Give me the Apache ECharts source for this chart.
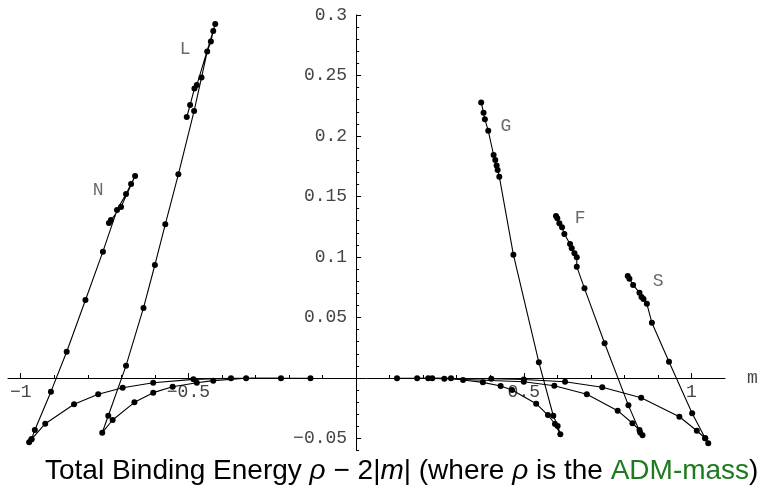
<!DOCTYPE html>
<html><head><meta charset="utf-8">
<script src="https://cdn.jsdelivr.net/npm/echarts@6/dist/echarts.min.js"></script>
<style>html,body{margin:0;padding:0;background:#fff}#c{width:762px;height:497px}</style>
</head><body><div id="c"></div>
<script>
// ---- data (m, binding energy) ----
const nCurveM = [-0.224, -0.373, -0.485, -0.605, -0.696, -0.769, -0.841, -0.927, -0.968, -0.975];
const nCurveE = [-0.0002, -0.0002, -0.0011, -0.0039, -0.0080, -0.0135, -0.0217, -0.0378, -0.0507, -0.0531];
const nSteepM = [-0.968, -0.958, -0.910, -0.863, -0.807, -0.755, -0.713, -0.686, -0.671, -0.659, -0.701, -0.731, -0.737];
const nSteepE = [-0.0507, -0.0430, -0.0113, 0.0217, 0.0645, 0.1044, 0.1388, 0.1521, 0.1603, 0.1669, 0.1413, 0.1306, 0.1281];

const lCurveM = [-0.136, -0.328, -0.426, -0.475, -0.547, -0.605, -0.661, -0.726, -0.757];
const lCurveE = [-0.0002, -0.0002, -0.0022, -0.0039, -0.0072, -0.0121, -0.0201, -0.0347, -0.0452];
const lSteepM = [-0.739, -0.686, -0.634, -0.600, -0.569, -0.530, -0.483, -0.461, -0.444, -0.433, -0.426, -0.420, -0.475, -0.482, -0.495, -0.505];
const lSteepE = [-0.0312, 0.0102, 0.0579, 0.0934, 0.1270, 0.1683, 0.2207, 0.2483, 0.2698, 0.2781, 0.2868, 0.2926, 0.2421, 0.2393, 0.2256, 0.2157];

const gCurveM = [0.122, 0.215, 0.283, 0.319, 0.378, 0.431, 0.465, 0.537, 0.572, 0.593, 0.609];
const gCurveE = [-0.0002, -0.0002, -0.0002, -0.0017, -0.0036, -0.0066, -0.0099, -0.0212, -0.0306, -0.0380, -0.0465];
const gSteepM = [0.601, 0.588, 0.545, 0.469, 0.427, 0.422, 0.419, 0.415, 0.410, 0.394, 0.384, 0.380, 0.373];
const gSteepE = [-0.0397, -0.0312, 0.0130, 0.1019, 0.1664, 0.1719, 0.1756, 0.1802, 0.1843, 0.2044, 0.2138, 0.2193, 0.2277];

const fCurveM = [0.182, 0.263, 0.500, 0.591, 0.688, 0.780, 0.824, 0.845, 0.854];
const fCurveE = [-0.0002, -0.0006, -0.0031, -0.0064, -0.0135, -0.0270, -0.0374, -0.0430, -0.0474];
const fSteepM = [0.847, 0.812, 0.741, 0.681, 0.658, 0.658, 0.651, 0.643, 0.638, 0.621, 0.614, 0.606, 0.600, 0.596];
const fSteepE = [-0.0450, -0.0226, 0.0287, 0.0741, 0.0920, 0.0998, 0.1031, 0.1072, 0.1107, 0.1190, 0.1245, 0.1279, 0.1320, 0.1339];

const sCurveM = [0.227, 0.403, 0.500, 0.623, 0.734, 0.850, 0.964, 1.016, 1.041, 1.050];
const sCurveE = [-0.0002, -0.0006, -0.0012, -0.0031, -0.0077, -0.0163, -0.0320, -0.0436, -0.0498, -0.0540];
const sSteepM = [1.041, 1.002, 0.933, 0.882, 0.867, 0.857, 0.851, 0.845, 0.826, 0.815, 0.810];
const sSteepE = [-0.0498, -0.0292, 0.0135, 0.0457, 0.0613, 0.0653, 0.0669, 0.0705, 0.0769, 0.0821, 0.0843];

// curve labels
const labelNames = ['N', 'L', 'G', 'F', 'S'];
const labelM = [-0.769, -0.510, 0.447, 0.668, 0.901];
const labelE = [0.155, 0.272, 0.208, 0.132, 0.080];

// ticks
const xMajorTicks = [-1, -0.5, 0.5, 1];
const xMinorTicks = [-1, -0.9, -0.8, -0.7, -0.6, -0.5, -0.4, -0.3, -0.2, -0.1, 0.1, 0.2, 0.3, 0.4, 0.5, 0.6, 0.7, 0.8, 0.9, 1];
const yMajorTicks = [-0.05, 0.05, 0.1, 0.15, 0.2, 0.25, 0.3];

// axis ranges
const X_MIN = -1.038, X_MAX = 1.10, Y_MIN = -0.06, Y_MAX = 0.3;

const groups = [
  [nCurveM, nCurveE, nSteepM, nSteepE],
  [lCurveM, lCurveE, lSteepM, lSteepE],
  [gCurveM, gCurveE, gSteepM, gSteepE],
  [fCurveM, fCurveE, fSteepM, fSteepE],
  [sCurveM, sCurveE, sSteepM, sSteepE]
];
const pts = (a, b) => a.map((v, i) => [v, b[i]]);

const monoFont = 'Liberation Mono';
const fmt = v => String(+(+v).toFixed(3)).replace('-', '\u2212');

// plot box in pixels
const G_LEFT = 8, G_TOP = 15, G_W = 717, G_H = 435.6;
const zeroX = G_LEFT + G_W * (0 - X_MIN) / (X_MAX - X_MIN);
const zeroY = G_TOP + G_H * (Y_MAX - 0) / (Y_MAX - Y_MIN);

const series = groups.map(g => ({
  type: 'line',
  xAxisIndex: 0, yAxisIndex: 0,
  data: pts(g[0], g[1]).concat(pts(g[2], g[3])),
  symbol: 'circle', symbolSize: 6,
  itemStyle: { color: '#000' },
  lineStyle: { color: '#000', width: 1.1 },
  silent: true
}));
series.push({
  type: 'scatter', xAxisIndex: 0, yAxisIndex: 0,
  data: labelNames.map((n, i) => ({ name: n, value: [labelM[i], labelE[i]] })),
  symbolSize: 0,
  label: { show: true, position: 'inside', formatter: '{b}', fontFamily: monoFont, fontSize: 18, color: '#444' },
  silent: true
});

const hidden = { type: 'value', show: false };
const lineSt = { show: true, onZero: false, lineStyle: { color: '#000', width: 1 } };
const noLine = { show: false, onZero: false };

const option = {
  animation: false,
  backgroundColor: '#fff',
  grid: [
    { left: G_LEFT, top: G_TOP, width: G_W, height: G_H, containLabel: false, outerBoundsMode: 'none' },
    // x-axis strip: its bottom edge sits at zero level
    { left: G_LEFT, top: G_TOP, width: G_W, height: zeroY - G_TOP, containLabel: false, outerBoundsMode: 'none' },
    // y-axis strip: its left edge sits at m = 0
    { left: zeroX, top: G_TOP, width: G_LEFT + G_W - zeroX, height: G_H, containLabel: false, outerBoundsMode: 'none' }
  ],
  title: {
    left: 40, top: 452,
    text: '{a|Total Binding Energy }{i|ρ}{a| − 2|}{i|m}{a|| (where }{i|ρ}{a| is the }{g|ADM-mass}{a|)}',
    textStyle: {
      fontWeight: 'normal',
      rich: {
        a: { fontFamily: 'Liberation Sans', fontSize: 28, fontWeight: 'normal', color: '#000' },
        i: { fontFamily: 'Liberation Sans', fontSize: 28, fontWeight: 'normal', fontStyle: 'italic', color: '#000' },
        g: { fontFamily: 'Liberation Sans', fontSize: 28, fontWeight: 'normal', color: '#1e7a1e' }
      }
    }
  },
  xAxis: [
    Object.assign({}, hidden, { gridIndex: 0, min: X_MIN, max: X_MAX }),
    { type: 'value', gridIndex: 1, min: X_MIN, max: X_MAX, position: 'bottom', splitLine: { show: false },
      axisLine: lineSt,
      axisTick: { show: true, inside: true, length: 3, customValues: xMinorTicks, lineStyle: { color: '#000' } },
      axisLabel: { show: false },
      name: 'm', nameLocation: 'end', nameGap: 22,
      nameTextStyle: { fontFamily: monoFont, fontSize: 18, color: '#444', verticalAlign: 'middle', padding: [8, 0, 0, 0] } },
    { type: 'value', gridIndex: 1, min: X_MIN, max: X_MAX, position: 'bottom', splitLine: { show: false },
      axisLine: noLine,
      axisTick: { show: true, inside: true, length: 5, customValues: xMajorTicks, lineStyle: { color: '#000' } },
      axisLabel: { show: true, customValues: xMajorTicks, formatter: fmt, margin: 5, fontFamily: monoFont, fontSize: 18, color: '#444' } },
    Object.assign({}, hidden, { gridIndex: 2, min: 0, max: X_MAX })
  ],
  yAxis: [
    Object.assign({}, hidden, { gridIndex: 0, min: Y_MIN, max: Y_MAX }),
    Object.assign({}, hidden, { gridIndex: 1, min: 0, max: Y_MAX }),
    { type: 'value', gridIndex: 2, min: Y_MIN, max: Y_MAX, interval: 0.01, position: 'left', splitLine: { show: false },
      axisLine: lineSt,
      axisTick: { show: true, inside: true, length: 3, lineStyle: { color: '#000' } },
      axisLabel: { show: false } },
    { type: 'value', gridIndex: 2, min: Y_MIN, max: Y_MAX, position: 'left', splitLine: { show: false },
      axisLine: noLine,
      axisTick: { show: true, inside: true, length: 5, customValues: yMajorTicks, lineStyle: { color: '#000' } },
      axisLabel: { show: true, customValues: yMajorTicks, formatter: fmt, margin: 9, fontFamily: monoFont, fontSize: 18, color: '#444' } }
  ],
  series: series
};
const chart = echarts.init(document.getElementById('c'), null, { renderer: 'canvas' });
chart.setOption(option);
</script>
</body></html>
